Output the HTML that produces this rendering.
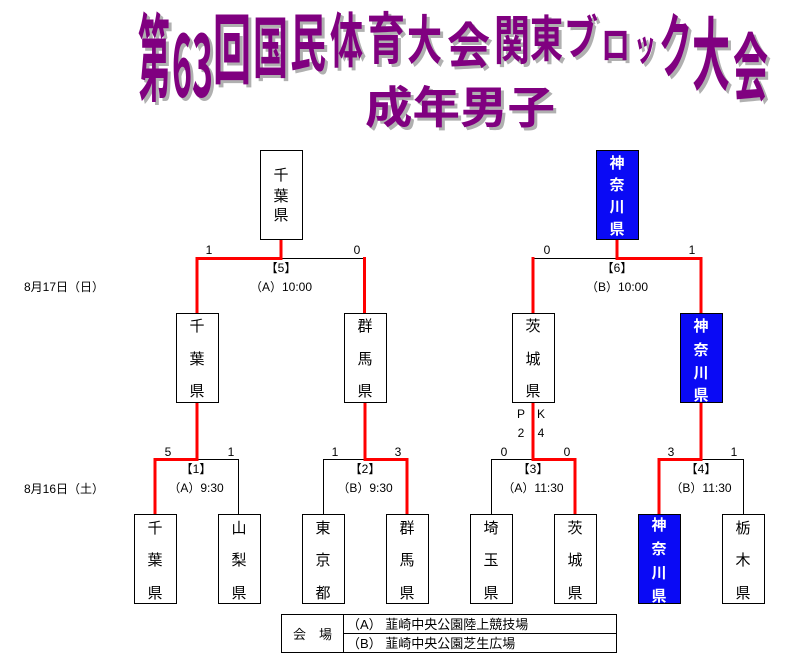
<!DOCTYPE html>
<html><head><meta charset="utf-8"><style>
html,body{margin:0;padding:0;background:#fff;width:806px;height:671px;overflow:hidden}
svg{display:block}
.t{font-family:"Liberation Sans","Noto Sans CJK JP",sans-serif;font-size:12px;fill:#000}
.k{font-family:"Noto Sans CJK JP",sans-serif;font-size:15px;fill:#000;text-anchor:middle}
.w{font-family:"Noto Sans CJK JP",sans-serif;font-size:15px;fill:#fff;font-weight:bold;text-anchor:middle}
.ti{font-family:"Noto Sans CJK JP",sans-serif;font-weight:bold;font-size:40px}
</style></head><body>
<svg width="806" height="671" viewBox="0 0 806 671" xmlns="http://www.w3.org/2000/svg">
<g class="ti">
<g fill="#b0b0b0" transform="translate(3,3)">
<text transform="translate(138,100) scale(1,2.37)" y="-3" textLength="32" lengthAdjust="spacingAndGlyphs">第</text>
<text transform="translate(172,97) scale(1,2.2)" y="0" textLength="20" lengthAdjust="spacingAndGlyphs">6</text>
<text transform="translate(192,97) scale(1,2.2)" y="0" textLength="21" lengthAdjust="spacingAndGlyphs">3</text>
<text transform="translate(213,83) scale(1,1.92)" y="-3" textLength="38" lengthAdjust="spacingAndGlyphs">回</text>
<text transform="translate(253,77) scale(1,1.68)" y="-3" textLength="35" lengthAdjust="spacingAndGlyphs">国</text>
<text transform="translate(290,70) scale(1,1.58)" y="-3" textLength="36" lengthAdjust="spacingAndGlyphs">民</text>
<text transform="translate(330,67) scale(1,1.5)" y="-3" textLength="33" lengthAdjust="spacingAndGlyphs">体</text>
<text transform="translate(367,63) scale(1,1.4)" y="-3" textLength="38" lengthAdjust="spacingAndGlyphs">育</text>
<text transform="translate(407,63) scale(1,1.32)" y="-3" textLength="35" lengthAdjust="spacingAndGlyphs">大</text>
<text transform="translate(447,67) scale(1,1.24)" y="-3" textLength="43" lengthAdjust="spacingAndGlyphs">会</text>
<text transform="translate(494,63) scale(1,1.32)" y="-3" textLength="36" lengthAdjust="spacingAndGlyphs">関</text>
<text transform="translate(530,60) scale(1,1.24)" y="-3" textLength="33" lengthAdjust="spacingAndGlyphs">東</text>
<text transform="translate(564,58) scale(1,1.18)" y="-3" textLength="34" lengthAdjust="spacingAndGlyphs">ブ</text>
<text transform="translate(601,62) scale(1,1.0)" y="-3" textLength="29" lengthAdjust="spacingAndGlyphs">ロ</text>
<text transform="translate(634,63) scale(1,1.0)" y="-3" textLength="22" lengthAdjust="spacingAndGlyphs">ッ</text>
<text transform="translate(659,77) scale(1,1.76)" y="-3" textLength="33" lengthAdjust="spacingAndGlyphs">ク</text>
<text transform="translate(692,90) scale(1,2.0)" y="-3" textLength="38" lengthAdjust="spacingAndGlyphs">大</text>
<text transform="translate(733,100) scale(1,1.84)" y="-3" textLength="35" lengthAdjust="spacingAndGlyphs">会</text>
<text transform="translate(365,127) scale(1,1.05)" y="-4" textLength="190" lengthAdjust="spacingAndGlyphs" font-size="42">成年男子</text>
</g>
<g fill="#800080">
<text transform="translate(138,100) scale(1,2.37)" y="-3" textLength="32" lengthAdjust="spacingAndGlyphs">第</text>
<text transform="translate(172,97) scale(1,2.2)" y="0" textLength="20" lengthAdjust="spacingAndGlyphs">6</text>
<text transform="translate(192,97) scale(1,2.2)" y="0" textLength="21" lengthAdjust="spacingAndGlyphs">3</text>
<text transform="translate(213,83) scale(1,1.92)" y="-3" textLength="38" lengthAdjust="spacingAndGlyphs">回</text>
<text transform="translate(253,77) scale(1,1.68)" y="-3" textLength="35" lengthAdjust="spacingAndGlyphs">国</text>
<text transform="translate(290,70) scale(1,1.58)" y="-3" textLength="36" lengthAdjust="spacingAndGlyphs">民</text>
<text transform="translate(330,67) scale(1,1.5)" y="-3" textLength="33" lengthAdjust="spacingAndGlyphs">体</text>
<text transform="translate(367,63) scale(1,1.4)" y="-3" textLength="38" lengthAdjust="spacingAndGlyphs">育</text>
<text transform="translate(407,63) scale(1,1.32)" y="-3" textLength="35" lengthAdjust="spacingAndGlyphs">大</text>
<text transform="translate(447,67) scale(1,1.24)" y="-3" textLength="43" lengthAdjust="spacingAndGlyphs">会</text>
<text transform="translate(494,63) scale(1,1.32)" y="-3" textLength="36" lengthAdjust="spacingAndGlyphs">関</text>
<text transform="translate(530,60) scale(1,1.24)" y="-3" textLength="33" lengthAdjust="spacingAndGlyphs">東</text>
<text transform="translate(564,58) scale(1,1.18)" y="-3" textLength="34" lengthAdjust="spacingAndGlyphs">ブ</text>
<text transform="translate(601,62) scale(1,1.0)" y="-3" textLength="29" lengthAdjust="spacingAndGlyphs">ロ</text>
<text transform="translate(634,63) scale(1,1.0)" y="-3" textLength="22" lengthAdjust="spacingAndGlyphs">ッ</text>
<text transform="translate(659,77) scale(1,1.76)" y="-3" textLength="33" lengthAdjust="spacingAndGlyphs">ク</text>
<text transform="translate(692,90) scale(1,2.0)" y="-3" textLength="38" lengthAdjust="spacingAndGlyphs">大</text>
<text transform="translate(733,100) scale(1,1.84)" y="-3" textLength="35" lengthAdjust="spacingAndGlyphs">会</text>
<text transform="translate(365,127) scale(1,1.05)" y="-4" textLength="190" lengthAdjust="spacingAndGlyphs" font-size="42">成年男子</text>
</g>
</g>

<g stroke="#000" stroke-width="1" fill="none">
<path d="M281 258.5H364.5M532.5 258.5H617"/>
<path d="M196 459.5H238.5V514M323.5 514V459.5H365M491.5 514V459.5H533M701 459.5H743.5V514"/>
</g>
<g stroke="#f00" stroke-width="3" fill="none" stroke-linecap="square">
<path d="M281 240V258.5H197V313M364.5 258.5V313"/>
<path d="M617 240V258.5H701V313M533 258.5V313"/>
<path d="M197 403V459.5H155V514"/>
<path d="M365 403V459.5H407V514"/>
<path d="M533 403V459.5H575V514"/>
<path d="M701 403V459.5H659V514"/>
</g>

<g stroke="#000" stroke-width="1" fill="#fff">
<rect x="260.5" y="150.5" width="42" height="89"/>
<rect x="176.5" y="313.5" width="42" height="89"/>
<rect x="344.5" y="313.5" width="42" height="89"/>
<rect x="512.5" y="313.5" width="42" height="89"/>
<rect x="134.5" y="514.5" width="42" height="89"/>
<rect x="218.5" y="514.5" width="42" height="89"/>
<rect x="302.5" y="514.5" width="42" height="89"/>
<rect x="386.5" y="514.5" width="42" height="89"/>
<rect x="470.5" y="514.5" width="42" height="89"/>
<rect x="554.5" y="514.5" width="42" height="89"/>
<rect x="722.5" y="514.5" width="42" height="89"/>
</g>
<g stroke="#000" stroke-width="1" fill="#0a0af5">
<rect x="596.5" y="150.5" width="42" height="89"/>
<rect x="680.5" y="313.5" width="42" height="89"/>
<rect x="638.5" y="514.5" width="42" height="89"/>
</g>

<g class="k">
<text x="281" y="180">千</text><text x="281" y="201">葉</text><text x="281" y="220">県</text>
<text x="197" y="331">千</text><text x="197" y="364">葉</text><text x="197" y="396">県</text>
<text x="365" y="331">群</text><text x="365" y="364">馬</text><text x="365" y="396">県</text>
<text x="533" y="331">茨</text><text x="533" y="364">城</text><text x="533" y="396">県</text>
<text x="155" y="533">千</text><text x="155" y="565">葉</text><text x="155" y="598">県</text>
<text x="239" y="533">山</text><text x="239" y="565">梨</text><text x="239" y="598">県</text>
<text x="323" y="533">東</text><text x="323" y="565">京</text><text x="323" y="598">都</text>
<text x="407" y="533">群</text><text x="407" y="565">馬</text><text x="407" y="598">県</text>
<text x="491" y="533">埼</text><text x="491" y="565">玉</text><text x="491" y="598">県</text>
<text x="575" y="533">茨</text><text x="575" y="565">城</text><text x="575" y="598">県</text>
<text x="743" y="533">栃</text><text x="743" y="565">木</text><text x="743" y="598">県</text>
</g>
<g class="w">
<text x="617" y="168">神</text><text x="617" y="190">奈</text><text x="617" y="212">川</text><text x="617" y="234">県</text>
<text x="701" y="331">神</text><text x="701" y="355">奈</text><text x="701" y="378">川</text><text x="701" y="400">県</text>
<text x="659" y="530">神</text><text x="659" y="554">奈</text><text x="659" y="578">川</text><text x="659" y="601">県</text>
</g>

<g class="t" text-anchor="middle">
<text x="209" y="254">1</text><text x="357" y="254">0</text>
<text x="547" y="254">0</text><text x="692" y="254">1</text>
<text x="281" y="272">【5】</text><text x="281" y="291">（A）10:00</text>
<text x="617" y="272">【6】</text><text x="617" y="291">（B）10:00</text>
<text x="168" y="456">5</text><text x="231" y="456">1</text>
<text x="335" y="456">1</text><text x="398" y="456">3</text>
<text x="504" y="456">0</text><text x="567" y="456">0</text>
<text x="671" y="456">3</text><text x="734" y="456">1</text>
<text x="196" y="473">【1】</text><text x="196" y="492">（A）9:30</text>
<text x="365" y="473">【2】</text><text x="365" y="492">（B）9:30</text>
<text x="533" y="473">【3】</text><text x="533" y="492">（A）11:30</text>
<text x="701" y="473">【4】</text><text x="701" y="492">（B）11:30</text>
<text x="521" y="418">P</text><text x="541" y="418">K</text>
<text x="521" y="437">2</text><text x="541" y="437">4</text>
</g>
<text class="t" x="24" y="291">8月17日（日）</text>
<text class="t" x="24" y="493">8月16日（土）</text>

<g stroke="#000" stroke-width="1" fill="none">
<rect x="281.5" y="614.5" width="335" height="38"/>
<path d="M343.5 614.5V652.5M343.5 633.5H616.5"/>
</g>
<text class="t" x="293" y="639" style="font-size:13px">会　場</text>
<text class="t" x="347" y="629" style="font-size:13px">（A）  韮崎中央公園陸上競技場</text>
<text class="t" x="347" y="648" style="font-size:13px">（B）  韮崎中央公園芝生広場</text>
</svg>
</body></html>
